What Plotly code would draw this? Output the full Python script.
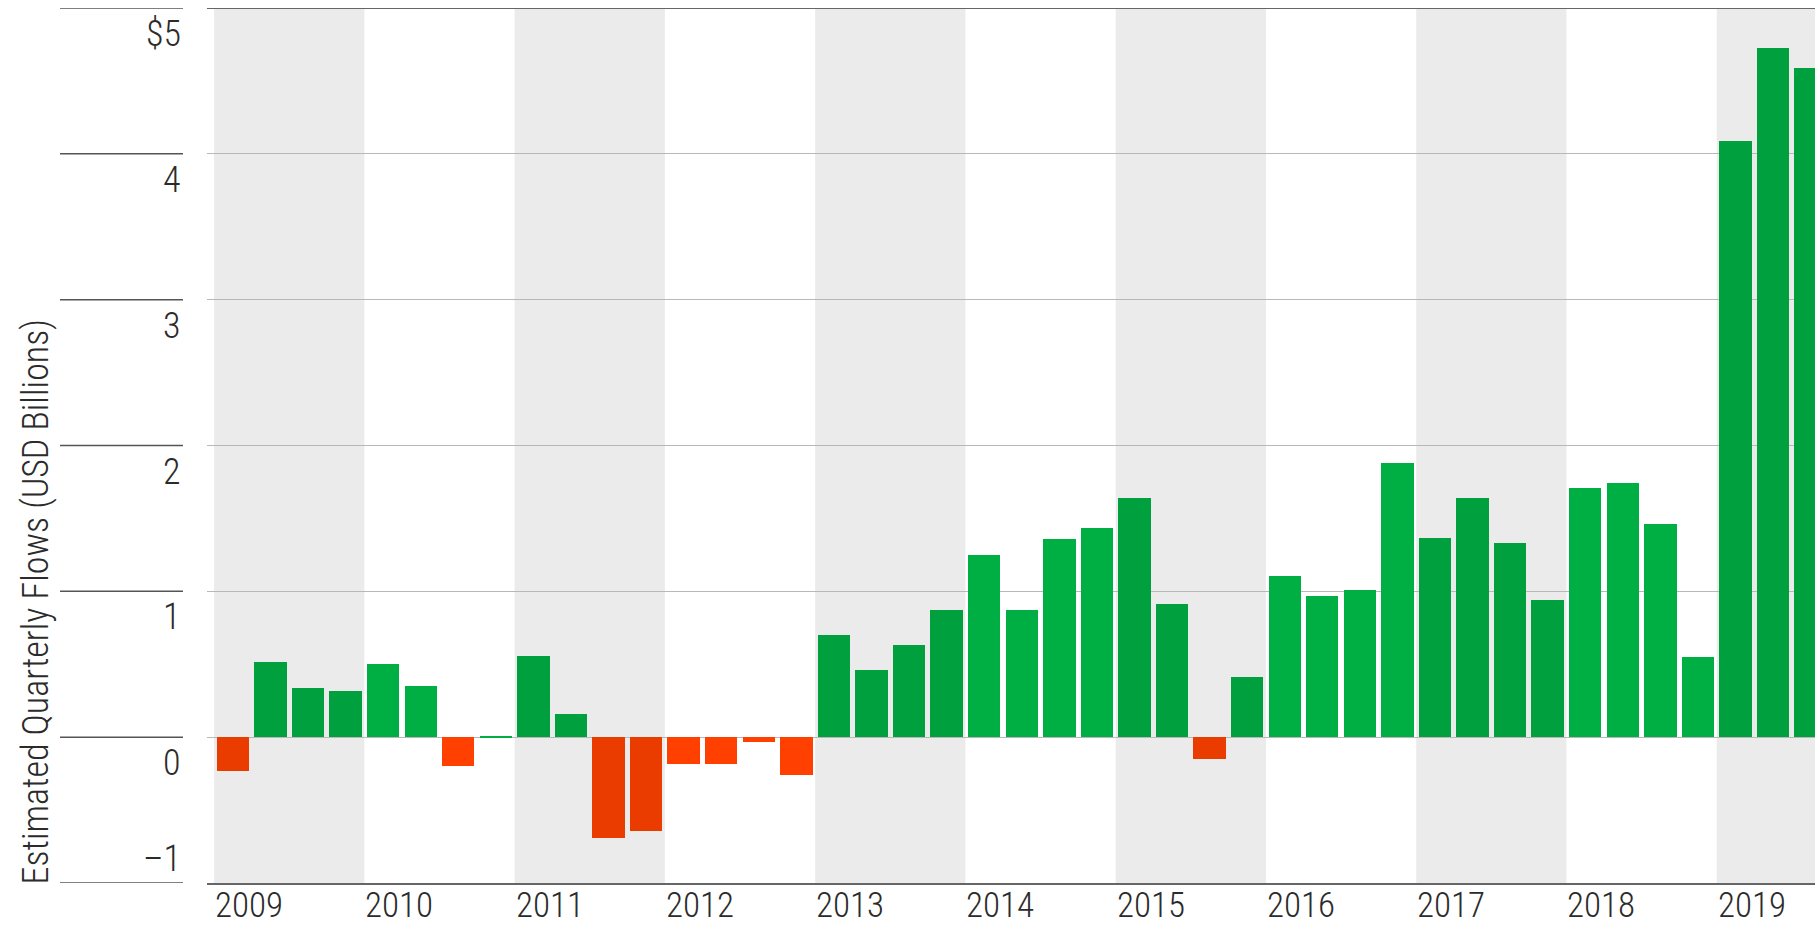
import plotly.graph_objects as go

# ---------------- data ----------------
years = [2009, 2010, 2011, 2012, 2013, 2014, 2015, 2016, 2017, 2018, 2019]
quarter_labels = [f"{y} Q{q}" for y in years for q in (1, 2, 3, 4)][:43]

flows = [
    -0.235, 0.516, 0.335, 0.319,     # 2009
    0.504, 0.351, -0.195, 0.01,      # 2010
    0.554, 0.156, -0.691, -0.641,    # 2011
    -0.182, -0.186, -0.033, -0.262,  # 2012
    0.70, 0.46, 0.635, 0.873,        # 2013
    1.246, 0.873, 1.357, 1.437,      # 2014
    1.643, 0.913, -0.15, 0.413,      # 2015
    1.103, 0.968, 1.008, 1.881,      # 2016
    1.365, 1.643, 1.333, 0.944,      # 2017
    1.706, 1.746, 1.46, 0.548,       # 2018
    4.09, 4.723, 4.586,              # 2019
]

y_tick_values = [-1, 0, 1, 2, 3, 4, 5]
y_tick_labels = ["\u20131", "0", "1", "2", "3", "4", "$5"]
year_labels = [str(y) for y in years]
y_title = "Estimated Quarterly Flows (USD Billions)"

# ---------------- styling ----------------
FONT = "Roboto Condensed, Liberation Sans Narrow, Roboto, sans-serif"
TEXT = "#2b2b2b"
GREEN_DARK, GREEN_LIGHT = "#00A03E", "#00AF43"
RED_DARK, RED_LIGHT = "#EB3C00", "#FF4000"
BAND = "#EBEBEB"
TICK_SIZE = 36

W, H = 1815, 928
ML, MR, MT, MB = 207, 0, 8, 45
plot_w = W - ML - MR
px_per_q = 37.565
x_min = -25.9 / px_per_q
x_max = x_min + plot_w / px_per_q

x_idx = list(range(len(flows)))
colors = []
for i, v in enumerate(flows):
    shaded = ((i // 4) % 2 == 0)
    if v >= 0:
        colors.append(GREEN_DARK if shaded else GREEN_LIGHT)
    else:
        colors.append(RED_DARK if shaded else RED_LIGHT)

fig = go.Figure()
fig.add_trace(go.Bar(
    x=x_idx, y=flows, width=0.862,
    marker=dict(color=colors, line=dict(width=0)),
    customdata=quarter_labels,
    hovertemplate="%{customdata}: %{y:.2f}<extra></extra>",
))

shapes = []
annotations = []
# alternating year bands + year labels (left-aligned at band start)
for k, y in enumerate(years):
    start = max(4 * k - 0.5, x_min)
    if k % 2 == 0:
        shapes.append(dict(type="rect", xref="x", yref="paper", x0=start, x1=4 * k + 3.5,
                           y0=0, y1=1, fillcolor=BAND, line=dict(width=0), layer="below"))
    annotations.append(dict(x=start, y=0, xref="x", yref="paper", text=year_labels[k],
                            xanchor="left", yanchor="top", showarrow=False, xshift=0, yshift=-1,
                            borderpad=0,
                            font=dict(family=FONT, size=35, color=TEXT, weight=300)))

# left tick lines and labels
x_left0 = (60 - ML) / plot_w
x_left1 = (183 - ML) / plot_w
for v, lab in zip(y_tick_values, y_tick_labels):
    shapes.append(dict(type="line", xref="paper", yref="y", x0=x_left0, x1=x_left1,
                       y0=v, y1=v, line=dict(color="#555555", width=1.5)))
    shift = 24 if v == y_tick_values[0] else -26
    annotations.append(dict(x=x_left1, y=v, xref="paper", yref="y", text=lab,
                            xanchor="right", yanchor="middle", yshift=shift, showarrow=False,
                            font=dict(family=FONT, size=TICK_SIZE, color=TEXT, weight=300)))

# top frame line
shapes.append(dict(type="line", xref="paper", yref="y", x0=0, x1=1, y0=5, y1=5,
                   line=dict(color="#666666", width=2)))

annotations.append(dict(x=(35 - ML) / plot_w, y=0, xref="paper", yref="paper", text=y_title,
                        textangle=-90, xanchor="center", yanchor="bottom", yshift=-4,
                        showarrow=False,
                        font=dict(family=FONT, size=36, color=TEXT, weight=300)))

fig.update_layout(
    width=W, height=H,
    margin=dict(l=ML, r=MR, t=MT, b=MB),
    paper_bgcolor="white", plot_bgcolor="white",
    showlegend=False, bargap=0,
    shapes=shapes, annotations=annotations,
    font=dict(family=FONT, color=TEXT),
    xaxis=dict(range=[x_min, x_max], showgrid=False, zeroline=False, showticklabels=False,
               ticks="", showline=True, linecolor="#666666", linewidth=2, fixedrange=True),
    yaxis=dict(range=[-1, 5], tickvals=y_tick_values, showticklabels=False, ticks="",
               showgrid=True, gridcolor="#B8B8B8", gridwidth=1, zeroline=False,
               showline=False, fixedrange=True),
)

fig.write_html("out.html", config={"displayModeBar": False},
               post_script="document.body.style.margin='0';")
